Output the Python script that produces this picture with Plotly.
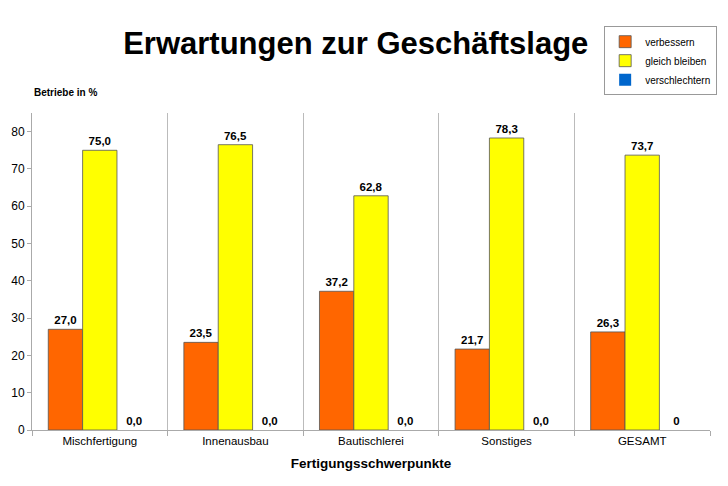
import plotly.graph_objects as go

categories = ["Mischfertigung", "Innenausbau", "Bautischlerei", "Sonstiges", "GESAMT"]
verbessern = [27.0, 23.5, 37.2, 21.7, 26.3]
gleich_bleiben = [75.0, 76.5, 62.8, 78.3, 73.7]
verschlechtern = [0.0, 0.0, 0.0, 0.0, 0.0]
labels_verbessern = ["27,0", "23,5", "37,2", "21,7", "26,3"]
labels_gleich = ["75,0", "76,5", "62,8", "78,3", "73,7"]
labels_verschlechtern = ["0,0", "0,0", "0,0", "0,0", "0"]
y_ticks = [0, 10, 20, 30, 40, 50, 60, 70, 80]

font = "Liberation Sans, Arial, sans-serif"
line = dict(color="#555555", width=0.8)
textfont = dict(family=font, size=11.5, color="black", weight="bold")

fig = go.Figure()
fig.add_trace(go.Bar(name="verbessern", x=categories, y=verbessern, text=labels_verbessern,
                     marker=dict(color="#FF6600", line=line), textposition="outside",
                     textfont=textfont, cliponaxis=False))
fig.add_trace(go.Bar(name="gleich bleiben", x=categories, y=gleich_bleiben, text=labels_gleich,
                     marker=dict(color="#FFFF00", line=line), textposition="outside",
                     textfont=textfont, cliponaxis=False))
fig.add_trace(go.Bar(name="verschlechtern", x=categories, y=verschlechtern, text=labels_verschlechtern,
                     marker=dict(color="#0066CC", line=dict(width=0)), textposition="outside",
                     textfont=textfont, cliponaxis=False))

fig.update_layout(
    width=720, height=478,
    margin=dict(l=24, r=18, t=105, b=56, autoexpand=False),
    paper_bgcolor="white", plot_bgcolor="white",
    barmode="group", bargap=0.24, bargroupgap=0,
    font=dict(family=font, size=11, color="black"),
    title=dict(text="<b>Erwartungen zur Geschäftslage</b>", x=0.483, xanchor="center",
               y=0.927, yanchor="middle", font=dict(family=font, size=31, color="black")),
    legend=dict(xref="container", yref="container", x=0.828, xanchor="left", y=0.962, yanchor="top",
                bordercolor="#999999", borderwidth=1, bgcolor="white",
                font=dict(family=font, size=10), tracegroupgap=0,
                itemwidth=30),
    showlegend=True,
    xaxis=dict(tickson="boundaries", showgrid=True, gridcolor="#BBBBBB", gridwidth=1,
               showline=True, linecolor="#AAAAAA", linewidth=1, automargin=False,
               ticks="outside", ticklen=5, tickcolor="#AAAAAA",
               tickfont=dict(family=font, size=11.5),
               title=dict(text="<b>Fertigungsschwerpunkte</b>", font=dict(family=font, size=13.5),
                          standoff=12)),
    yaxis=dict(range=[0, 85], tickvals=y_ticks, showgrid=False, zeroline=False,
               showline=True, linecolor="#AAAAAA", linewidth=1, automargin=False,
               ticks="outside", ticklen=4, tickcolor="#AAAAAA",
               tickfont=dict(family=font, size=12)),
    annotations=[dict(text="<b>Betriebe in %</b>", xref="paper", yref="paper",
                      x=0.0, y=1.04, xanchor="left", yanchor="bottom", showarrow=False,
                      font=dict(family=font, size=10))],
)

fig.write_html("out.html")
